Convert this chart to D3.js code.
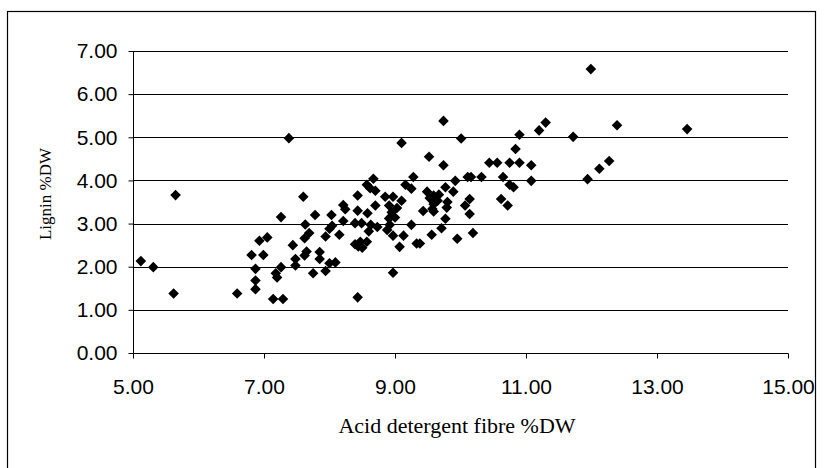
<!DOCTYPE html>
<html>
<head>
<meta charset="utf-8">
<script src="https://cdn.jsdelivr.net/npm/d3@7"></script>
<style>
  body { margin: 0; background: #fff; }
  svg { display: block; }
</style>
</head>
<body>
<svg id="chart" width="825" height="468"></svg>
<script>
// acid detergent fibre %DW (x) and lignin %DW (y)
var adf = [
  5.12, 5.31, 5.65, 5.62, 6.59, 6.81, 6.87, 6.93, 6.99, 7.05, 6.87, 6.87, 7.14, 7.29, 7.18, 7.20, 7.26, 7.26, 7.44, 7.48, 7.48,
  7.38,
  8.67, 9.28, 9.92, 10.11, 10.16, 10.32, 10.65, 8.57, 8.62, 8.70, 9.16, 9.25, 9.49, 9.59, 9.67, 9.53, 9.77, 9.89,
  10.75, 10.81, 7.60, 8.43, 8.85, 8.97, 9.10, 10.62, 10.72, 10.14, 10.07, 8.21, 8.24, 8.70, 8.91, 9.03,
  9.80, 9.79, 9.59, 9.65, 9.57, 7.78, 8.03, 8.43, 8.58, 9.43, 9.59, 10.14, 8.95, 9.00, 8.91, 9.77,
  7.63, 8.21, 8.39, 8.49, 8.63, 8.73, 8.92, 9.25, 9.71, 8.04, 8.00, 7.69, 7.62, 7.94, 8.15, 8.88,
  8.97, 9.13, 9.56, 9.95, 10.19, 8.39, 8.47, 8.57, 8.50, 8.44, 9.07, 9.33, 9.38, 7.65, 7.62, 7.85,
  7.85, 8.00, 8.09, 8.60,
  7.75, 7.94, 8.43, 8.97,
  9.74, 9.10, 10.01, 11.30, 11.20, 10.90, 10.84, 9.52, 9.74, 10.44, 10.56, 10.75, 10.90, 11.08,
  11.08, 11.99, 11.72, 12.39, 13.46, 11.94, 12.12, 12.27
];
var lignin = [
  2.13, 1.99, 3.66, 1.38, 1.38, 2.27, 1.95, 2.60, 2.27, 2.68, 1.68, 1.48, 1.25, 1.25, 1.85, 1.75, 1.99, 3.15, 2.50, 2.18, 2.03,
  4.98,
  4.04, 4.08, 3.99, 4.08, 4.08, 4.08, 4.08, 3.90, 3.82, 3.76, 3.90, 3.81, 3.74, 3.65, 3.67, 3.59, 3.84, 3.74,
  3.90, 3.84, 3.62, 3.65, 3.62, 3.62, 3.53, 3.57, 3.42, 3.57, 3.42, 3.43, 3.33, 3.42, 3.42, 3.36,
  3.50, 3.37, 3.45, 3.53, 3.34, 3.20, 3.20, 3.30, 3.24, 3.29, 3.28, 3.22, 3.26, 3.14, 3.12, 3.11,
  2.98, 3.06, 3.01, 3.01, 2.97, 2.92, 2.97, 2.97, 2.89, 2.95, 2.88, 2.78, 2.66, 2.70, 2.74, 2.85,
  2.72, 2.72, 2.74, 2.65, 2.78, 2.52, 2.58, 2.58, 2.44, 2.47, 2.46, 2.54, 2.54, 2.35, 2.26, 2.34,
  2.18, 2.08, 2.10, 2.82,
  1.85, 1.90, 1.29, 1.86,
  5.38, 4.87, 4.97, 5.34, 5.16, 5.06, 4.73, 4.55, 4.35, 4.41, 4.41, 4.41, 4.41, 4.35,
  3.99, 6.58, 5.01, 5.28, 5.19, 4.03, 4.27, 4.45
];
var xTicks = [5, 7, 9, 11, 13, 15];
var yTicks = [0, 1, 2, 3, 4, 5, 6, 7];
var xTitle = "Acid detergent fibre %DW";
var yTitle = "Lignin %DW";

var svg = d3.select("#chart");

// outer chart frame (runs off the bottom of the picture)
svg.append("rect")
  .attr("x", 7.5).attr("y", 11.5)
  .attr("width", 808).attr("height", 470)
  .style("fill", "#fff")
  .style("stroke", "#000")
  .style("stroke-width", 1.2);

var x = d3.scaleLinear().domain([5, 15]).range([133, 788]);
var y = d3.scaleLinear().domain([0, 7]).range([353, 51]);

var fmt = d3.format(".2f");

// horizontal gridlines
svg.append("g")
  .selectAll("line")
  .data(yTicks.filter(d => d > 0))
  .enter().append("line")
  .attr("x1", x(5)).attr("x2", x(15))
  .attr("y1", d => Math.round(y(d)) + 0.5)
  .attr("y2", d => Math.round(y(d)) + 0.5)
  .style("stroke", "#000");

// y axis
var yAxis = svg.append("g")
  .attr("transform", "translate(" + (x(5) + 0.5) + ",0.5)")
  .call(d3.axisLeft(y).tickValues(yTicks).tickFormat(fmt).tickSize(5).tickPadding(11).offset(0));
yAxis.select(".domain").attr("d", "M0," + Math.round(y(7)) + "V" + Math.round(y(0)));

// x axis
var xAxis = svg.append("g")
  .attr("transform", "translate(0.5," + (Math.round(y(0)) + 0.5) + ")")
  .call(d3.axisBottom(x).tickValues(xTicks).tickFormat(fmt).tickSize(5).tickPadding(21).offset(0));
xAxis.select(".domain").attr("d", "M" + Math.round(x(5)) + ",0H" + Math.round(x(15)));

svg.selectAll(".tick text")
  .style("font-family", "'Liberation Sans', Arial, sans-serif")
  .style("font-size", "21px")
  .style("fill", "#000");
svg.selectAll(".domain, .tick line").style("stroke", "#000");

// points
var pts = adf.map((v, i) => ({ x: v, y: lignin[i] }));
svg.append("g")
  .selectAll("path")
  .data(pts)
  .enter().append("path")
  .attr("d", d3.symbol().type(d3.symbolSquare).size(56))
  .attr("transform", d => "translate(" + x(d.x) + "," + y(d.y) + ") rotate(45)")
  .style("fill", "#000");

// axis titles
svg.append("text")
  .attr("x", 457).attr("y", 433)
  .attr("text-anchor", "middle")
  .style("font-family", "'Liberation Serif', 'Times New Roman', serif")
  .style("font-size", "22px")
  .style("fill", "#000")
  .text(xTitle);

svg.append("text")
  .attr("transform", "translate(51,194) rotate(-90)")
  .attr("text-anchor", "middle")
  .style("font-family", "'Liberation Serif', 'Times New Roman', serif")
  .style("font-size", "17px")
  .style("fill", "#000")
  .text(yTitle);
</script>
</body>
</html>
